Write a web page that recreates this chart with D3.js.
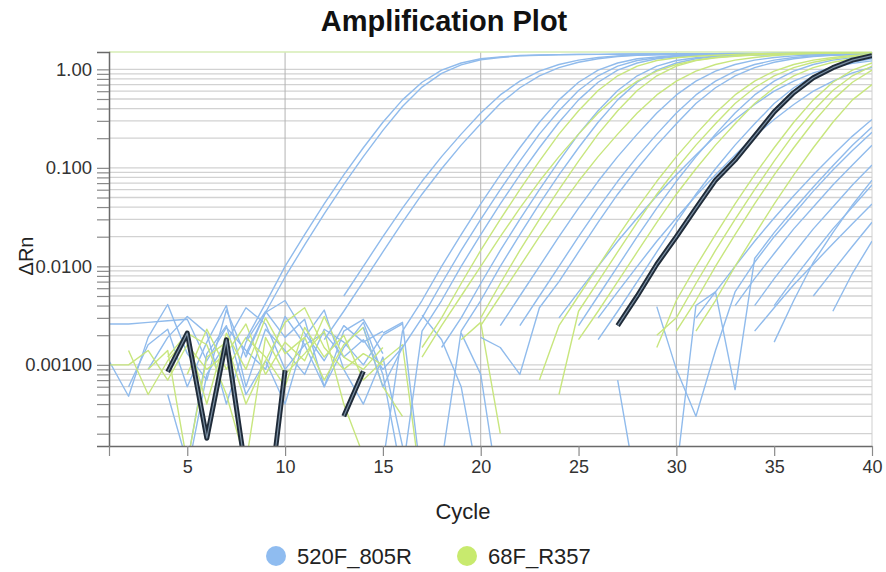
<!DOCTYPE html>
<html><head><meta charset="utf-8">
<script src="https://cdn.jsdelivr.net/npm/d3@7"></script>
<style>body{margin:0;background:#fff}svg{display:block}text{font-family:"Liberation Sans",Arial,sans-serif;fill:#222}</style>
</head><body><svg id="c" width="886" height="572"></svg>
<script>
// ---------- data ----------
const cycles = [1,2,3,4,5,6,7,8,9,10,11,12,13,14,15,16,17,18,19,20,21,22,23,24,25,26,27,28,29,30,31,32,33,34,35,36,37,38,39,40];
const xTickValues = [1,5,10,15,20,25,30,35,40];
const xTickLabels = ["","5","10","15","20","25","30","35","40"];
const yTickValues = [1,0.1,0.01,0.001];
const yTickLabels = ["1.00","0.100","0.0100","0.00100"];
const seriesNames = ["520F_805R","68F_R357"];
// each series: [first cycle, ΔRn values for consecutive cycles]; null = not plotted (≤0)
const blueBaseline = [
 [1,.0026,.0026,.0027,.0028,.0029,.0011,.0024,.0014,.0009,.0031,.0016,.0021,.0012,.0018,.0009,.0015],
 [1,.0011,.00048,.0019,.0041,.0013,.0007,.0036,.0012,.0034,.0045,.0021,.0011,.0025,.0017,.0022],
 [2,.0006,.0016,.0023,.0006,.0017,.0040,.0006,.0023,.0014,.0008,.0023,.0017,.0010,.0020,.0026],
 [3,.0009,.0019,.0031,.0021,.0004,.0017,.0035,.0019,.0029,.0006,.0015,.0027,.0008,.00007],
 [4,.0005,.0001,.0013,.0025,.0005,.0011,.0004,.0019,.0036,.0009,.0004,.0012,.00015],
 [5,.00008,.0008,.0017,.0038,.0026,.0009,.0016,.0006,.0022,.0029,.0013],
 [15,.0021,.0027,.00006],
 [17,.0032,.0018,.0006,.00005],
 [19,.0021,.0008,.00004]
];
const blueAmplification = [
 [8,.0018,.0042,.010,.021,.043,.085,.16,.29,.49,.74,.98,1.16,1.28,1.34,1.38,1.40,1.41,1.42,1.42,1.43,1.43,1.43,1.44,1.44,1.44,1.45,1.45,1.45,1.45,1.46,1.46,1.46,1.46],
 [8,.0013,.0034,.0078,.0165,.034,.068,.13,.24,.42,.66,.91,1.11,1.25,1.32,1.37,1.39,1.405,1.415,1.42,1.42,1.43,1.43,1.43,1.44,1.44,1.44,1.44,1.45,1.45,1.45,1.45,1.45,1.45],
 [13,.005,.010,.020,.039,.073,.13,.22,.36,.55,.76,.96,1.12,1.24,1.32,1.37,1.40,1.41,1.42,1.43,1.43,1.44,1.44,1.44,1.45,1.45,1.45,1.45,1.46],
 [12,.0018,.0035,.007,.014,.028,.054,.098,.17,.28,.45,.65,.86,1.04,1.18,1.28,1.35,1.39,1.405,1.415,1.42,1.43,1.43,1.44,1.44,1.44,1.45,1.45,1.45,1.45],
 [15,.0001,.0022,.0045,.010,.021,.043,.085,.16,.29,.49,.74,.98,1.16,1.28,1.34,1.38,1.40,1.41,1.42,1.42,1.43,1.43,1.43,1.44,1.44,1.44],
 [14,.0024,.0006,.0015,.003,.0067,.0145,.030,.060,.117,.22,.38,.61,.86,1.08,1.23,1.31,1.36,1.39,1.405,1.415,1.42,1.42,1.43,1.43,1.43,1.44,1.44],
 [16,.00008,.0022,.0045,.010,.021,.043,.085,.16,.29,.49,.74,.98,1.16,1.28,1.34,1.38,1.40,1.41,1.42,1.42,1.43,1.43,1.43,1.44,1.44],
 [18,.0015,.003,.0067,.0145,.030,.060,.117,.22,.38,.61,.86,1.08,1.23,1.31,1.36,1.39,1.405,1.415,1.42,1.42,1.43,1.43,1.43],
 [18,.0001,.0022,.0045,.010,.021,.043,.085,.16,.29,.49,.74,.98,1.16,1.28,1.34,1.38,1.40,1.41,1.42,1.42,1.43,1.43,1.43],
 [21,.0025,.005,.010,.020,.039,.073,.13,.22,.36,.55,.76,.96,1.12,1.24,1.32,1.37,1.40,1.41,1.42,1.43],
 [20,.0019,.0015,.0008,.0038,.007,.014,.028,.054,.098,.17,.28,.45,.65,.86,1.04,1.18,1.28,1.35,1.39,1.405,1.415],
 [22,.0025,.005,.010,.020,.039,.073,.13,.22,.36,.55,.76,.96,1.12,1.24,1.32,1.37,1.40,1.41,1.42],
 [24,.003,.0055,.010,.018,.031,.052,.085,.135,.21,.31,.44,.60,.76,.92,1.05,1.15,1.22],
 [25,.0025,.005,.010,.020,.039,.073,.13,.22,.36,.55,.76,.96,1.12,1.24,1.32,1.37],
 [26,.003,.0055,.010,.018,.031,.052,.085,.135,.21,.31,.44,.60,.76,.92,1.05],
 [26,.0018,.0035,.007,.014,.028,.054,.098,.17,.28,.45,.65,.86,1.04,1.18,1.28],
 [29,.0039,.0009,.0003,.0014,.0055,.011,.020,.034,.058,.095,.15,.23],
 [30,.00008,.004,.0055,.00056,.012,.022,.038,.064,.105,.17,.26],
 [27,.0007,.00005,null,null,null,null,null,null,null,null,null,.0035,.0085,.018],
 [34,.0022,.0038,.0065,.0105,.017,.027,.043],
 [35,.0017,.0045,.011,.022,.042,.075],
 [31,.003,.0055,.010,.018,.031,.052,.085,.135,.21,.31],
 [33,.004,.0075,.0135,.024,.040,.067,.107,.17],
 [34,.004,.0075,.0135,.024,.040,.067,.107],
 [35,.004,.0075,.0135,.024,.040,.067],
 [37,.005,.009,.016,.028]
];
const greenBaseline = [
 [1,.0010,.0010,.0014,.0007,.0016,.0009,.0013,.0026,.0008,.0017,.0011,.0031,.0012,.0009,.0015],
 [2,.0014,.0005,.0011,.0019,.0004,.0021,.0009,.0030,.0013,.0019,.0007,.0016,.0024,.0006,.0003],
 [3,.0009,.0014,.0001,.0012,.0017,.0004,.0011,.0027,.0038,.0015,.0009,.0013,.0010],
 [4,.0012,.0021,.0016,.0005,.0001,.0019,.0008,.0013,.0022,.0004,.00012],
 [5,.0008,.0023,.0009,.0019,.0012,.0006,.0024,.0012,.0020,.0007,.0011],
 [19,.0018,.0027,.0002],
 [15,.0011,.0016,.00005]
];
const greenAmplification = [
 [17,.0015,.003,.0067,.0145,.030,.060,.117,.22,.38,.61,.86,1.08,1.23,1.31,1.36,1.39,1.42,1.44,1.45,1.46,1.47,1.47,1.48,1.48],
 [17,.0012,.0025,.005,.010,.020,.039,.073,.13,.22,.36,.55,.76,.96,1.12,1.24,1.32,1.37,1.41,1.43,1.45,1.46,1.47,1.47,1.48],
 [20,.003,.0067,.0145,.030,.060,.117,.22,.38,.61,.86,1.08,1.23,1.31,1.36,1.40,1.43,1.45,1.46,1.47,1.48,1.48],
 [20,.0025,.005,.010,.020,.039,.073,.13,.22,.36,.55,.76,.96,1.12,1.24,1.32,1.38,1.42,1.45,1.46,1.47,1.48],
 [23,.0007,.0025,.005,.010,.020,.039,.073,.13,.22,.36,.55,.76,.96,1.12,1.24,1.32,1.38,1.42],
 [24,.0005,.0035,.007,.014,.028,.054,.098,.17,.28,.45,.65,.86,1.04,1.18,1.28,1.35,1.40],
 [25,.0018,.0035,.007,.014,.028,.054,.098,.17,.28,.45,.65,.86,1.04,1.18,1.28,1.35],
 [29,.0015,.0045,.010,.021,.043,.085,.16,.29,.49,.74,.98,1.16],
 [29,.002,.003,.0067,.0145,.030,.060,.117,.22,.38,.61,.86,1.08],
 [30,.0022,.0045,.010,.021,.043,.085,.16,.29,.49,.74,.98],
 [31,.0022,.0045,.010,.021,.043,.085,.16,.29,.49,.70]
];
const selectedWell = [4,.00085,.0021,.00018,.0018,.00008,.00002,.00088,null,null,.0003,.00086,
 null,null,null,null,null,null,null,null,null,null,null,null,
 .0025,.005,.0105,.020,.039,.075,.12,.21,.37,.58,.82,1.04,1.24,1.38];

// ---------- chart ----------
const svg = d3.select("#c");
const L = 109, R = 872, T = 52, B = 446;
const x = d3.scaleLinear().domain([cycles[0], cycles[cycles.length-1]]).range([L, R]);
const y = d3.scaleLog().domain([0.00015, 1.5]).range([B, T]);
const blue = "#90bbec", green = "#c8e67e";

const pts = s => s.slice(1).map((v,i) => ({c: s[0]+i, v}));
const line = d3.line().defined(d => d.v != null && d.v > 0).x(d => x(d.c)).y(d => y(d.v));

svg.append("defs").append("clipPath").attr("id","clip")
  .append("rect").attr("x",L).attr("y",T).attr("width",R-L).attr("height",B-T);

// horizontal grid (log minor ticks)
const gridVals = y.ticks();
svg.append("g").selectAll("line").data(gridVals).join("line")
  .attr("x1",L).attr("x2",R).attr("y1",d=>y(d)).attr("y2",d=>y(d))
  .attr("stroke","#d2d2d2").attr("stroke-width",1.3);
// vertical grid
svg.append("g").selectAll("line").data([10,20,30]).join("line")
  .attr("x1",d=>x(d)).attr("x2",d=>x(d)).attr("y1",T).attr("y2",B)
  .attr("stroke","#b4b4b4").attr("stroke-width",1);
svg.append("line").attr("x1",R).attr("x2",R).attr("y1",T).attr("y2",B).attr("stroke","#cfcfcf");
svg.append("line").attr("x1",L).attr("x2",R).attr("y1",T).attr("y2",T).attr("stroke","#d6edb4").attr("stroke-width",1.5);

const plot = svg.append("g").attr("clip-path","url(#clip)");
function drawSet(set, color){
  plot.append("g").selectAll("path").data(set).join("path")
    .attr("d", s => line(pts(s))).attr("fill","none")
    .attr("stroke", color).attr("stroke-width",1.4).attr("stroke-linejoin","round");
}
drawSet(blueBaseline, blue);
drawSet(greenBaseline, green);
drawSet(blueAmplification, blue);
drawSet(greenAmplification, green);
plot.append("path").attr("d", line(pts(selectedWell))).attr("fill","none")
  .attr("stroke","#1f2b39").attr("stroke-width",5).attr("stroke-linejoin","round");
plot.append("path").attr("d", line(pts(selectedWell))).attr("fill","none")
  .attr("stroke","#7a8ea2").attr("stroke-width",1.2).attr("stroke-linejoin","round");

// y axis
const yAxis = d3.axisLeft(y).tickValues(gridVals).tickSize(12).tickSizeOuter(12)
  .tickFormat(d => { const i = yTickValues.findIndex(v => Math.abs(v-d)/v < 1e-6); return i >= 0 ? yTickLabels[i] : ""; });
const gy = svg.append("g").attr("transform",`translate(${L},0)`).call(yAxis);
gy.select(".domain").attr("stroke","#6a6a6a").attr("stroke-width",1.5);
gy.selectAll(".tick line").attr("stroke","#8a8a8a").attr("stroke-width",1.2);
gy.selectAll(".tick text").attr("x",-17).style("font-size","18.5px").style("fill","#333");

// x axis
const xAxis = d3.axisBottom(x).tickValues(xTickValues).tickSize(10).tickSizeOuter(0)
  .tickFormat((d,i) => xTickLabels[i]);
const gx = svg.append("g").attr("transform",`translate(0,${B})`).call(xAxis);
gx.select(".domain").attr("stroke","#6a6a6a").attr("stroke-width",1.5);
gx.selectAll(".tick line").attr("stroke","#8a8a8a").attr("stroke-width",1.2);
gx.selectAll(".tick text").attr("y",14).style("font-size","18px").style("fill","#333");

// titles
svg.append("text").attr("x",444).attr("y",31).attr("text-anchor","middle")
  .style("font-size","29px").style("font-weight","bold").style("fill","#111").text("Amplification Plot");
svg.append("text").attr("x",463).attr("y",519).attr("text-anchor","middle")
  .style("font-size","22px").text("Cycle");
svg.append("text").attr("transform","translate(33,256) rotate(-90)").attr("text-anchor","middle")
  .style("font-size","20px").text("ΔRn");

// legend
const leg = svg.append("g");
const legX = [276, 467];
["#8fbcf0", "#c8ea6e"].forEach((c,i) => {
  leg.append("circle").attr("cx",legX[i]).attr("cy",556).attr("r",10).attr("fill", c);
  leg.append("text").attr("x",legX[i]+21).attr("y",564).style("font-size","22px").text(seriesNames[i]);
});
</script></body></html>
